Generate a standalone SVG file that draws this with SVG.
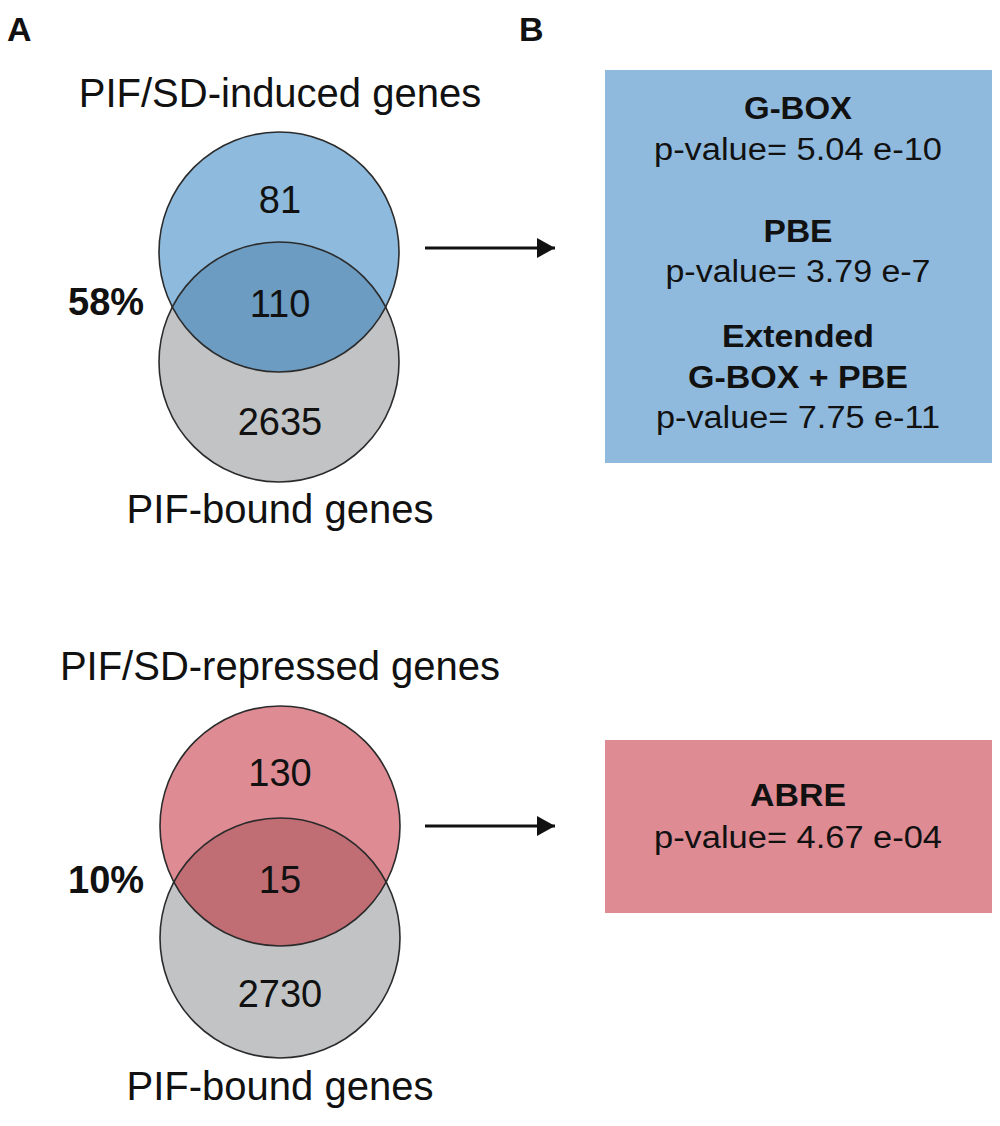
<svg xmlns="http://www.w3.org/2000/svg" width="1000" height="1126" viewBox="0 0 1000 1126">
<style>
.t{font-family:"Liberation Sans",Arial,sans-serif;fill:#111;}
.lbl{font-size:40px;text-anchor:middle;}
.num{font-size:38px;text-anchor:middle;}
.pct{font-size:38px;font-weight:bold;}
.pan{font-size:34px;font-weight:bold;}
.bx{font-size:31px;text-anchor:middle;}
.bb{font-weight:bold;}
.edge{fill:none;stroke:#2b2b2b;stroke-width:1.6;}
.conn{stroke:#111;stroke-width:3;fill:none;}
</style>
<defs>
<marker id="ah" markerWidth="18" markerHeight="20" refX="18" refY="10" orient="auto" markerUnits="userSpaceOnUse" viewBox="0 0 18 20">
<path d="M0,0 L18,10 L0,20 Z" fill="#111"/>
</marker>
<clipPath id="c1"><circle cx="279" cy="362" r="120"/></clipPath>
<clipPath id="c2"><circle cx="280" cy="938" r="120"/></clipPath>
</defs>
<rect width="1000" height="1126" fill="#fff"/>
<g id="labels">
<text class="t pan" x="7" y="41">A</text>
<text class="t pan" x="519" y="41">B</text>
</g>
<g id="venn-induced">
<text class="t lbl" x="280" y="107">PIF/SD-induced genes</text>
<circle cx="279" cy="362" r="120" fill="#c1c3c5"/>
<circle cx="279" cy="252" r="120" fill="#8dbadd"/>
<circle cx="279" cy="252" r="120" fill="#6c9cc2" clip-path="url(#c1)"/>
<circle class="edge" cx="279" cy="362" r="120"/>
<circle class="edge" cx="279" cy="252" r="120"/>
<text class="t num" x="280" y="213">81</text>
<text class="t num" x="280" y="317">110</text>
<text class="t num" x="280" y="435">2635</text>
<text class="t pct" x="68" y="315">58%</text>
<text class="t lbl" x="280" y="523">PIF-bound genes</text>
</g>
<g id="venn-repressed">
<text class="t lbl" x="280" y="680">PIF/SD-repressed genes</text>
<circle cx="280" cy="938" r="120" fill="#c1c3c5"/>
<circle cx="280" cy="826" r="120" fill="#de8b94"/>
<circle cx="280" cy="826" r="120" fill="#c06d74" clip-path="url(#c2)"/>
<circle class="edge" cx="280" cy="938" r="120"/>
<circle class="edge" cx="280" cy="826" r="120"/>
<text class="t num" x="280" y="786">130</text>
<text class="t num" x="280" y="893">15</text>
<text class="t num" x="280" y="1007">2730</text>
<text class="t pct" x="68" y="893">10%</text>
<text class="t lbl" x="280" y="1100">PIF-bound genes</text>
</g>
<g id="connectors">
<line class="conn" x1="425" y1="248" x2="555" y2="248" marker-end="url(#ah)"/>
<line class="conn" x1="425" y1="826" x2="555" y2="826" marker-end="url(#ah)"/>
</g>
<g id="box-induced">
<rect x="605" y="70" width="387" height="393" fill="#8fbadd"/>
<text class="t bx bb" x="798" y="119" textLength="108" lengthAdjust="spacingAndGlyphs">G-BOX</text>
<text class="t bx" x="798" y="160" textLength="288" lengthAdjust="spacingAndGlyphs">p-value= 5.04 e-10</text>
<text class="t bx bb" x="798" y="242" textLength="69" lengthAdjust="spacingAndGlyphs">PBE</text>
<text class="t bx" x="798" y="282" textLength="265" lengthAdjust="spacingAndGlyphs">p-value= 3.79 e-7</text>
<text class="t bx bb" x="798" y="347" textLength="152" lengthAdjust="spacingAndGlyphs">Extended</text>
<text class="t bx bb" x="798" y="388" textLength="220" lengthAdjust="spacingAndGlyphs">G-BOX + PBE</text>
<text class="t bx" x="798" y="428" textLength="284" lengthAdjust="spacingAndGlyphs">p-value= 7.75 e-11</text>
</g>
<g id="box-repressed">
<rect x="605" y="740" width="387" height="173" fill="#de8b94"/>
<text class="t bx bb" x="798" y="806" textLength="96" lengthAdjust="spacingAndGlyphs">ABRE</text>
<text class="t bx" x="798" y="848" textLength="288" lengthAdjust="spacingAndGlyphs">p-value= 4.67 e-04</text>
</g>
</svg>
